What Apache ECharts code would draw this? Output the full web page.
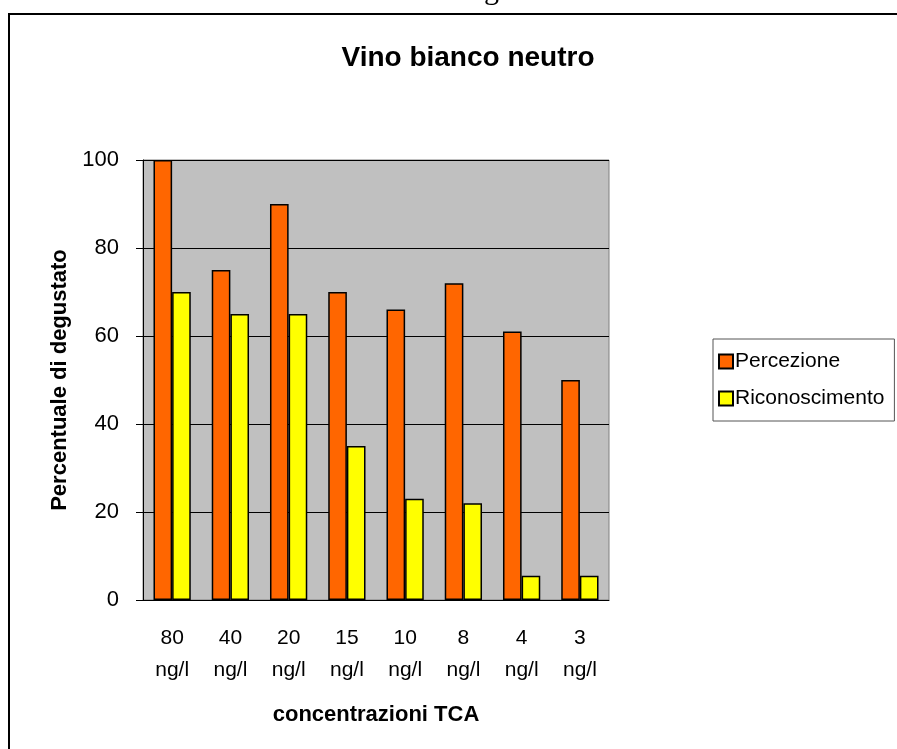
<!DOCTYPE html>
<html>
<head>
<meta charset="utf-8">
<script src="https://cdn.jsdelivr.net/npm/echarts@6/dist/echarts.min.js"></script>
<style>
  html, body { margin: 0; padding: 0; background: #fff; }
  #chart { width: 897px; height: 749px; }
</style>
</head>
<body>
<div id="chart"></div>
<script>
// dati
var categorie = ['80\nng/l', '40\nng/l', '20\nng/l', '15\nng/l', '10\nng/l', '8\nng/l', '4\nng/l', '3\nng/l'];
var percezione = [100, 75, 90, 70, 66, 72, 61, 50];
var riconoscimento = [70, 65, 65, 35, 23, 22, 5.5, 5.5];
var yTicks = [0, 20, 40, 60, 80, 100];

var font = 'Liberation Sans, Arial, sans-serif';
var chart = echarts.init(document.getElementById('chart'));

var option = {
  animation: false,
  backgroundColor: '#fff',
  title: {
    text: 'Vino bianco neutro',
    left: 463,
    textAlign: 'center',
    top: 39,
    textStyle: { fontFamily: font, fontSize: 28, fontWeight: 'bold', color: '#000' }
  },
  graphic: [
    {
      type: 'rect',
      shape: { x: 9, y: 14, width: 900, height: 800 },
      style: { fill: 'none', stroke: '#000', lineWidth: 2 },
      silent: true
    },
    {
      type: 'text',
      left: 484,
      top: -24,
      style: { text: 'g', fontFamily: 'Liberation Serif, serif', fontSize: 30, fill: '#000' },
      silent: true
    }
  ],
  legend: {
    orient: 'vertical',
    left: 713,
    top: 339,
    padding: [12, 10, 12, 5],
    itemGap: 16,
    itemWidth: 14,
    itemHeight: 14,
    borderColor: '#555',
    borderWidth: 1,
    icon: 'rect',
    textStyle: { fontFamily: font, fontSize: 21, color: '#000', padding: [0, 0, 0, -3] },
    data: ['Percezione', 'Riconoscimento']
  },
  grid: {
    left: 143,
    right: 288,
    top: 160,
    bottom: 149,
    show: true,
    backgroundColor: '#C0C0C0',
    borderColor: '#808080',
    borderWidth: 1
  },
  xAxis: {
    type: 'category',
    data: categorie,
    name: 'concentrazioni TCA',
    nameLocation: 'middle',
    nameGap: 104,
    nameTextStyle: { fontFamily: font, fontSize: 22, fontWeight: 'bold', color: '#000' },
    axisLine: { lineStyle: { color: '#000', width: 1 } },
    axisTick: { length: 7, lineStyle: { color: '#000' } },
    axisLabel: { fontFamily: font, fontSize: 21, color: '#000', margin: 22, lineHeight: 32, interval: 0 }
  },
  yAxis: {
    type: 'value',
    min: yTicks[0],
    max: yTicks[yTicks.length - 1],
    interval: 20,
    name: 'Percentuale di degustato',
    nameLocation: 'middle',
    nameGap: 70,
    nameTextStyle: { fontFamily: font, fontSize: 22, fontWeight: 'bold', color: '#000' },
    axisLine: { show: true, lineStyle: { color: '#000', width: 1 } },
    axisTick: { show: true, length: 7, lineStyle: { color: '#000' } },
    axisLabel: { fontFamily: font, fontSize: 22, color: '#000', margin: 24 },
    splitLine: { lineStyle: { color: '#000', width: 1 } }
  },
  series: [
    {
      name: 'Percezione',
      type: 'bar',
      data: percezione,
      barGap: '0%',
      barCategoryGap: '36%',
      itemStyle: { color: '#FF6600', borderColor: '#000', borderWidth: 1.5 }
    },
    {
      name: 'Riconoscimento',
      type: 'bar',
      data: riconoscimento,
      itemStyle: { color: '#FFFF00', borderColor: '#000', borderWidth: 1.5 }
    }
  ]
};

chart.setOption(option);
</script>
</body>
</html>
